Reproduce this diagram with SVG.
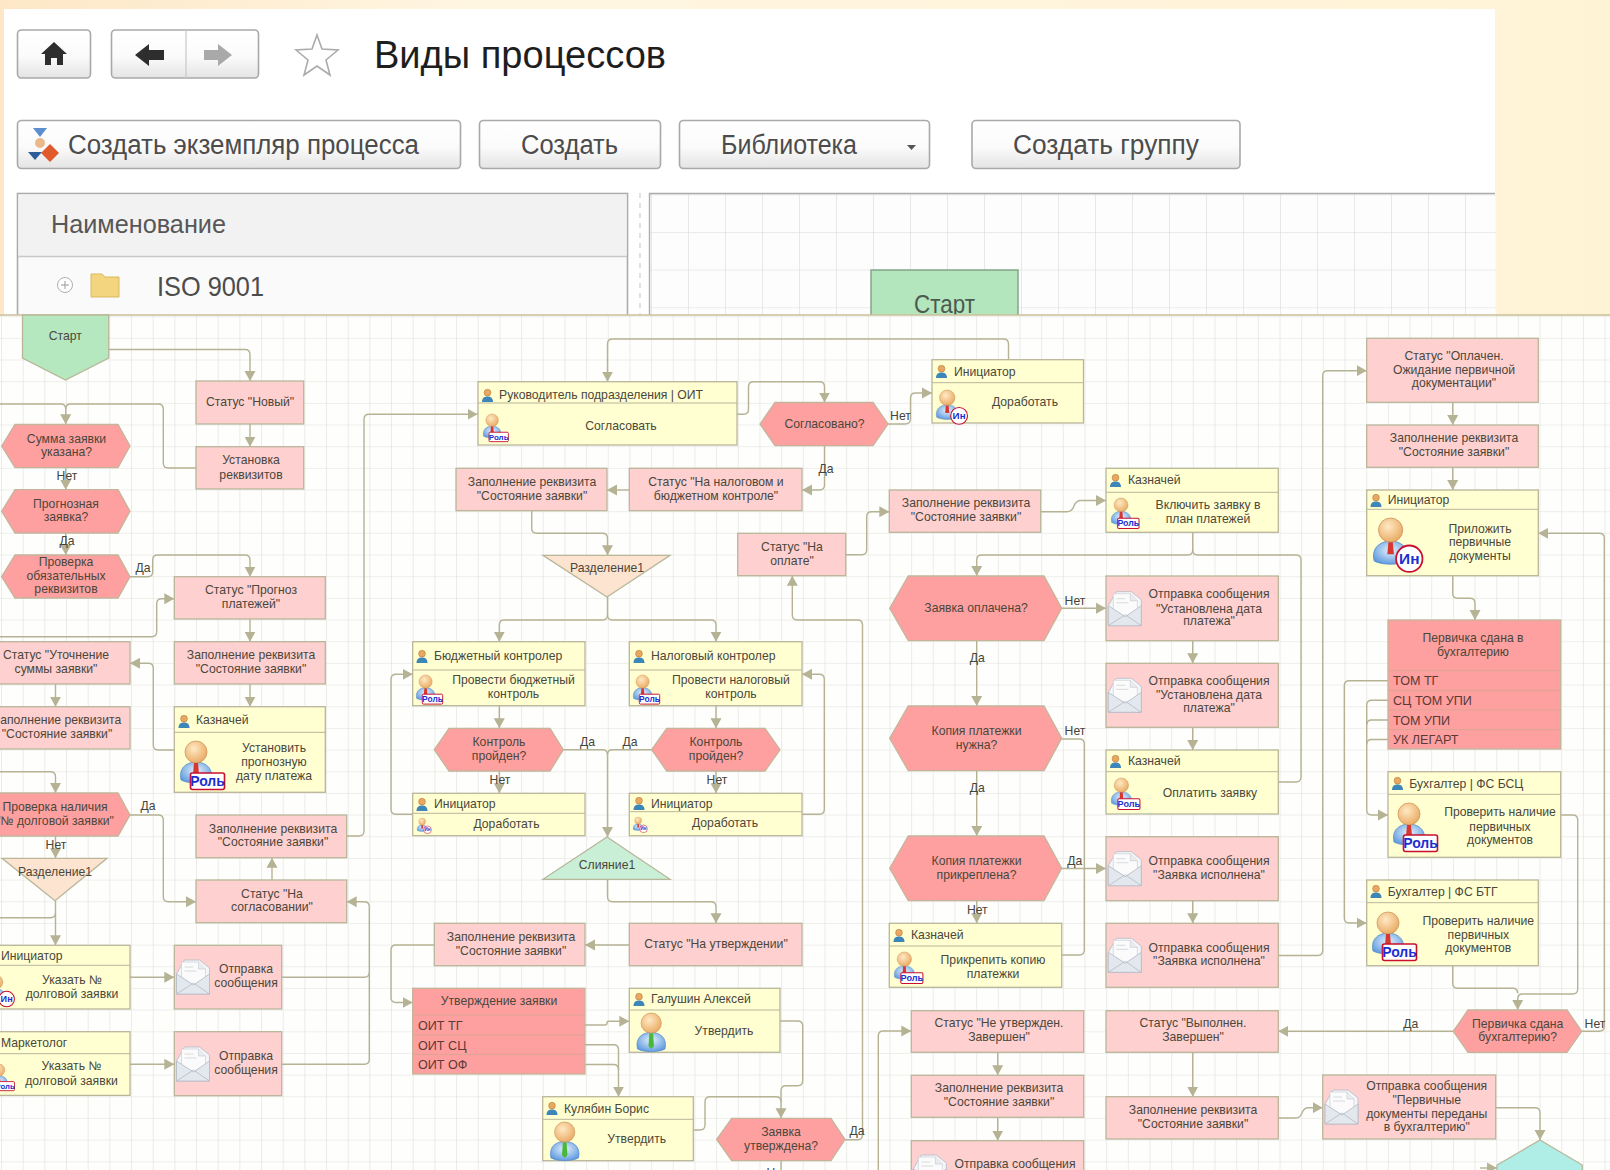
<svg xmlns="http://www.w3.org/2000/svg" xmlns:xlink="http://www.w3.org/1999/xlink" width="1610" height="1170" viewBox="0 0 1610 1170">
<style>
text{font-family:"Liberation Sans",Arial,sans-serif}
.t{font-size:12.2px;fill:#4a473b;text-anchor:middle;transform:translateY(-1px)}
.h{font-size:12.2px;fill:#4a473b;transform:translateY(-1px)}
.r{font-size:12.6px;fill:#5a3a34;transform:translateY(-.5px)}
.l{font-size:12.2px;fill:#45443a;text-anchor:middle;transform:translateY(-1px)}
.lp{fill:#ffd0d0;stroke:#b9b69a;stroke-width:1.3}
.dp{fill:#ffa0a0;stroke:#c4b49a;stroke-width:1.3}
.ye{fill:#ffffd2;stroke:#b9b69a;stroke-width:1.3}
.sep{stroke:#b9b69a;stroke-width:1;fill:none}
.rsep{stroke:#d9a593;stroke-width:1;fill:none}
.btn{fill:url(#bg);stroke:#a9a9a9;stroke-width:1.6}
.bt{font-size:27px;fill:#4c4c4c}
#connectors path{fill:none;stroke:#b6b294;stroke-width:1.4}
#connectors .a{marker-end:url(#arr)}
</style>
<defs>
<linearGradient id="page" x1="0" x2="1" y1="0" y2="0"><stop offset="0" stop-color="#fde7c6"/><stop offset=".3" stop-color="#fff6e2"/><stop offset="1" stop-color="#fff3d6"/></linearGradient>
<linearGradient id="bg" x1="0" x2="0" y1="0" y2="1"><stop offset="0" stop-color="#fff"/><stop offset=".55" stop-color="#fbfbfb"/><stop offset="1" stop-color="#e4e4e4"/></linearGradient>
<radialGradient id="head" cx=".4" cy=".35" r=".7"><stop offset="0" stop-color="#ffe9c4"/><stop offset="1" stop-color="#e9a860"/></radialGradient>
<radialGradient id="body" cx=".5" cy=".4" r=".7"><stop offset="0" stop-color="#e6f2fb"/><stop offset="1" stop-color="#4d8fdc"/></radialGradient>
<pattern id="grid" patternUnits="userSpaceOnUse" x="1" y="12.8" width="21.67" height="21.67"><rect width="21.67" height="21.67" fill="#fefefd"/><path d="M0,0H21.67M0,0V21.67" stroke="#dfdfd9" stroke-width="1.2" fill="none"/></pattern>
<pattern id="gridt" patternUnits="userSpaceOnUse" x="651" y="232" width="37" height="37.6"><rect width="37" height="37.6" fill="#fdfdfd"/><path d="M0,0H37M0,0V37.6" stroke="#dadada" stroke-width="1.2" fill="none"/></pattern>
<marker id="arr" markerUnits="userSpaceOnUse" markerWidth="11" markerHeight="12" refX="10" refY="6" orient="auto"><path d="M0,.5L10,6L0,11.5z" fill="#b6b294"/></marker>
<g id="uS"><circle cx="5.5" cy="3.7" r="3.4" fill="#e9a860" stroke="#a8703a" stroke-width=".5"/><path d="M0,13C0,8.5 3,7.5 5.5,7.5S11,8.5 11,13z" fill="#3d86b8"/></g>
<g id="man"><path d="M1,39C-2,26 8,21 16,21S34,26 31,39C24,43 8,43 1,39z" fill="url(#body)" stroke="#4f86c8" stroke-width=".7"/><circle cx="16" cy="11" r="11" fill="url(#head)" stroke="#c98f55" stroke-width=".7"/></g>
<g id="pR"><use xlink:href="#man" href="#man"/><path d="M14,22H18L19,33H13z" fill="#d8372f"/><rect x="10.5" y="32" width="34" height="16.5" rx="2" fill="#fff" stroke="#c8102e" stroke-width="1.6"/><text x="27.5" y="45" font-size="14" font-weight="bold" fill="#1b2fd0" text-anchor="middle">Роль</text></g>
<g id="pI"><use xlink:href="#man" href="#man"/><path d="M14,22H18L19,33H13z" fill="#d8372f"/><circle cx="33" cy="37" r="12" fill="#fff" stroke="#c8102e" stroke-width="1.6"/><text x="33" y="42" font-size="14" font-weight="bold" fill="#1b2fd0" text-anchor="middle">Ин</text></g>
<g id="pG"><use xlink:href="#man" href="#man"/><path d="M14,22H18L19,36L16,39L13,36z" fill="#49b83a"/></g>
<g id="env"><path d="M0,14L8,0H23L33,8V34H0z" fill="#f4f6f9" stroke="#b4bac4" stroke-width=".8"/><path d="M5,18V2H22L29,9V18L17,25z" fill="#fbfbfb" stroke="#c3c7cd" stroke-width=".6"/><path d="M22,2V9H29" fill="#e9ecef" stroke="#c3c7cd" stroke-width=".6"/><path d="M8,7H17M8,11H20" stroke="#d8dade" stroke-width="1"/><path d="M0,14L17,25L33,14V34H0z" fill="#e3e8ef" stroke="#b4bac4" stroke-width=".8"/><path d="M0,34L17,23L33,34" fill="none" stroke="#b4bac4" stroke-width=".8"/></g>
</defs>

<rect width="1610" height="315" fill="url(#page)"/>
<rect x="4" y="9" width="1491" height="306" fill="#fff"/>

<g id="toolbar">
<rect class="btn" x="17.500" y="30" width="73" height="48" rx="4"/>
<path d="M54,42L41,54H45V65H51V58H57V65H63V54H67z" fill="#2e2e2e"/>
<rect class="btn" x="111.500" y="30" width="147" height="48" rx="4"/>
<path d="M186,30V78" stroke="#c8c8c8" stroke-width="1.2"/>
<path d="M135,55L149,44V50H164V60H149V66z" fill="#2e2e2e"/>
<path d="M232,55L218,44V50H204V60H218V66z" fill="#a9a9a9"/>
<polygon points="317,35 322,49 338,50 326,60 330,75 317,66 304,75 308,60 296,50 312,49" fill="#fff" stroke="#ababab" stroke-width="1.6"/>
<text x="374" y="68" font-size="38" fill="#1e1e1e" textLength="292" lengthAdjust="spacingAndGlyphs">Виды процессов</text>
<rect class="btn" x="17.500" y="120.500" width="443" height="48" rx="4"/>
<path d="M33,128H47L40,137z" fill="#5b8fd0"/><circle cx="40" cy="143" r="5" fill="#e9b98a"/><path d="M28,152H42L35,160z" fill="#2c5f99"/><path d="M50,144L59,153L50,162L41,153z" fill="#e05a2b"/>
<text class="bt" x="68" y="154" textLength="351" lengthAdjust="spacingAndGlyphs">Создать экземпляр процесса</text>
<rect class="btn" x="479.500" y="120.500" width="181" height="48" rx="4"/>
<text class="bt" x="521" y="154" textLength="97" lengthAdjust="spacingAndGlyphs">Создать</text>
<rect class="btn" x="679.500" y="120.500" width="250" height="48" rx="4"/>
<text class="bt" x="721" y="154" textLength="136" lengthAdjust="spacingAndGlyphs">Библиотека</text>
<path d="M907,145H916L911.500,150z" fill="#555"/>
<rect class="btn" x="972" y="120.500" width="268" height="48" rx="4"/>
<text class="bt" x="1013" y="154" textLength="186" lengthAdjust="spacingAndGlyphs">Создать группу</text>
</g>

<g id="list">
<rect x="17.500" y="193.500" width="610" height="125" fill="#fafafa" stroke="#ababab" stroke-width="1.6"/>
<rect x="18.500" y="194.500" width="608" height="62" fill="#f2f2f2"/>
<path d="M18,256.500H627" stroke="#c8c8c8" stroke-width="1.4"/>
<text x="51" y="233" font-size="26" fill="#575757" textLength="175" lengthAdjust="spacingAndGlyphs">Наименование</text>
<circle cx="65" cy="285" r="7.500" fill="#fff" stroke="#b0b0b0"/><path d="M61,285H69M65,281V289" stroke="#9a9a9a"/>
<path d="M91,274H102L105,277H119V297H91z" fill="#f2d57e" stroke="#d9b961"/>
<text x="157" y="296" font-size="28" fill="#4c4c4c" textLength="107" lengthAdjust="spacingAndGlyphs">ISO 9001</text>
<path d="M640,193V315" stroke="#d4d4d4" stroke-width="1.4" stroke-dasharray="5 5"/>
</g>

<g id="top-canvas">
<rect x="649.500" y="193" width="846" height="122" fill="url(#gridt)"/>
<path d="M649.500,315V193.500H1495" stroke="#ababab" stroke-width="1.4" fill="none"/>
<rect x="871" y="270" width="147" height="50" fill="#b4e6bd" stroke="#7f9f86" stroke-width="1.4"/>
<text x="914" y="313" font-size="25" fill="#4c5a50" textLength="61" lengthAdjust="spacingAndGlyphs">Старт</text>
</g>

<rect x="0" y="315" width="1610" height="855" fill="url(#grid)"/>
<path d="M0,315H1610" stroke="#c9bf97" stroke-width="1.6"/>

<g id="connectors">
<path class="a" d="M108.700,349.500H245Q250,349.500 250,354.500V381"/>
<path class="a" d="M250,424V446.700"/>
<path class="a" d="M196,468H168.300Q163.300,468 163.300,463V409Q163.300,404 158.300,404H70.700Q65.700,404 65.700,409V424.300"/>
<path d="M0,404H60.700Q65.700,404 65.700,409"/>
<path class="a" d="M65.700,467.700V489.700"/>
<path class="a" d="M65.700,533V555"/>
<path class="a" d="M130,576.700H147.700Q152.700,576.700 152.700,571.700V560Q152.700,555 157.700,555H245Q250,555 250,560V576.700"/>
<path class="a" d="M0,636.700H151.700Q156.700,636.700 156.700,631.700V603.700Q156.700,598.700 161.700,598.700H174.300"/>
<path class="a" d="M250,619V641.700"/>
<path class="a" d="M250,684V706.700"/>
<path class="a" d="M174.300,750H158.300Q153.300,750 153.300,745V668.300Q153.300,663.300 148.300,663.300H130"/>
<path class="a" d="M55.500,684V706.700"/>
<path class="a" d="M0,771.700H50.500Q55.500,771.700 55.500,776.700V793"/>
<path class="a" d="M55.500,835.700V858.300"/>
<path class="a" d="M130,815H158.300Q163.300,815 163.300,820V896.700Q163.300,901.700 168.300,901.700H196"/>
<path class="a" d="M55.500,900.700V945.300"/>
<path d="M0,917.700H50.500Q55.500,917.700 55.500,912.700"/>
<path class="a" d="M130,977.300H174.300"/>
<path class="a" d="M130,1064.300H174.300"/>
<path class="a" d="M281.700,1064.300H364.300Q369.300,1064.300 369.300,1059.300V906.700Q369.300,901.700 364.300,901.700H346.700"/>
<path d="M281.700,977.300H364.300Q369.300,977.300 369.300,972.300"/>
<path class="a" d="M272,880V857.700"/>
<path class="a" d="M346.700,836H359Q364,836 364,831V419.300Q364,414.300 369,414.300H477.500"/>
<path class="a" d="M737,414.300H743.500Q748.500,414.300 748.500,409.300V386.700Q748.500,381.700 753.500,381.700H819.500Q824.500,381.700 824.500,386.700V402.500"/>
<path class="a" d="M888,424H905Q910.500,424 910.500,419V398Q910.500,393 915.500,393H932"/>
<path class="a" d="M1008.500,359.700V344Q1008.500,339 1003.500,339H612.500Q607.500,339 607.500,344V381.700"/>
<path class="a" d="M824.500,445.600V485Q824.500,490 819.500,490H802"/>
<path class="a" d="M629.300,490H607"/>
<path class="a" d="M531.700,510.700V528.300Q531.700,533.300 536.700,533.300H602.500Q607.500,533.300 607.500,538.300V555.300"/>
<path class="a" d="M607.500,597V615Q607.500,620 602.500,620H504.300Q499.300,620 499.300,625V641.700"/>
<path class="a" d="M607.500,615Q607.500,620 612.500,620H711Q716,620 716,625V641.700"/>
<path class="a" d="M499.300,705.700V728.300"/>
<path class="a" d="M716,705.700V728.300"/>
<path class="a" d="M499.300,771V793.300"/>
<path class="a" d="M716,771V793.300"/>
<path d="M563.300,749.700H602.500Q607.500,749.700 607.500,754.700"/>
<path class="a" d="M651.700,749.700H612.500Q607.500,749.700 607.500,754.700V837"/>
<path class="a" d="M412.700,814.300H396Q391,814.300 391,809.300V679.300Q391,674.300 396,674.300H412.700"/>
<path class="a" d="M802,814.300H819.300Q824.300,814.300 824.300,809.300V679.300Q824.300,674.300 819.300,674.300H802"/>
<path class="a" d="M607.500,879.300V896.700Q607.500,901.700 612.500,901.700H711Q716,901.700 716,906.700V923.300"/>
<path class="a" d="M629.300,945H585"/>
<path class="a" d="M434.300,945H396Q391,945 391,950V997.500Q391,1002.500 396,1002.500H412.700"/>
<path class="a" d="M585,1025H605Q607,1025 607,1023V1023Q607,1021.300 609,1021.300H629.300"/>
<path class="a" d="M585,1044.700H613.500Q618.500,1044.700 618.500,1049.700V1096.700"/>
<path d="M585,1064.500H613.500Q618.500,1064.500 618.500,1069.500"/>
<path class="a" d="M780,1021H797.700Q802.700,1021 802.700,1026V1080.700Q802.700,1085.700 797.700,1085.700H786Q781,1085.700 781,1090.700V1118.300"/>
<path d="M693.300,1130H700Q705,1130 705,1125V1101.700Q705,1096.700 710,1096.700H776Q781,1096.700 781,1101.700"/>
<path class="a" d="M845,1139.700H857.500Q862.500,1139.700 862.500,1134.700V625Q862.500,620 857.500,620H797.300Q792.300,620 792.300,615V575.700"/>
<path class="a" d="M845.700,554.700H861.700Q866.700,554.700 866.700,549.700V516.700Q866.700,511.700 871.700,511.700H889.300"/>
<path class="a" d="M1040.700,511.700H1067Q1072,511.700 1074,506Q1076,500.500 1081,500.500H1106"/>
<path class="a" d="M1192.700,532.300V550Q1192.700,555 1187.700,555H981.700Q976.700,555 976.700,560V576"/>
<path d="M1278.300,782H1296Q1301,782 1301,777V560Q1301,555 1296,555H1197.700Q1192.700,555 1192.700,550"/>
<path class="a" d="M1061.700,608.300H1106"/>
<path class="a" d="M976.700,640.700V706"/>
<path class="a" d="M976.700,770.700V836"/>
<path d="M1061.700,739H1079.300Q1084.300,739 1084.300,744V950Q1084.300,955 1079.300,955H1061.700"/>
<path class="a" d="M1061.700,868.500H1106"/>
<path class="a" d="M1192.700,640.700V663.300"/>
<path class="a" d="M1192.700,727.300V750"/>
<path class="a" d="M1192.700,900.700V923.300"/>
<path class="a" d="M976.700,900.700V923.300"/>
<path class="a" d="M1278.300,955.500H1317.700Q1322.700,955.500 1322.700,950.500V375.700Q1322.700,370.700 1327.700,370.700H1366.700"/>
<path class="a" d="M1452.700,402.300V425"/>
<path class="a" d="M1452.700,467.300V490"/>
<path class="a" d="M1452.700,575.700V593.300Q1452.700,598.300 1457.700,598.300H1470Q1475,598.300 1475,603.300V620"/>
<path class="a" d="M1388,680.700H1349.300Q1344.300,680.700 1344.300,685.700V918Q1344.300,923 1349.300,923H1366.700"/>
<path class="a" d="M1388,700.300H1371.700Q1366.700,700.300 1366.700,705.300V810Q1366.700,815 1371.700,815H1388"/>
<path d="M1388,720H1371.700Q1366.700,720 1366.700,725"/>
<path d="M1388,739.500H1371.700Q1366.700,739.500 1366.700,744.500"/>
<path class="a" d="M1560.700,815H1572.700Q1577.700,815 1577.700,820V989Q1577.700,994 1572.700,994H1522.700Q1517.700,994 1517.700,999V1010"/>
<path d="M1452.700,965.700V983.300Q1452.700,988.300 1457.700,988.300H1512.700Q1517.700,988.300 1517.700,993.300"/>
<path class="a" d="M1581.700,1031.300H1599.300Q1604.300,1031.300 1604.300,1026.300V538.300Q1604.300,533.300 1599.300,533.300H1538.300"/>
<path class="a" d="M1453.300,1031.300H1278.300"/>
<path class="a" d="M1192.700,1052.300V1096.700"/>
<path class="a" d="M1278.300,1118H1296Q1300,1118 1302,1113Q1304,1107.700 1308,1107.700H1322.700"/>
<path class="a" d="M1495.700,1107.700H1535Q1540,1107.700 1540,1112.700V1140"/>
<path class="a" d="M878.300,1170V1036Q878.300,1031 883.300,1031H911.300"/>
<path class="a" d="M997.700,1052.300V1075.300"/>
<path class="a" d="M997.700,1117.300V1140.700"/>
<path d="M781,1160.700V1170"/>
<path class="a" d="M1480,1168H1497"/>
</g>

<g id="n-start"><polygon points="22.500,315 108.700,315 108.700,358 65.500,380 22.500,358" fill="#b6e8c0" stroke="#b9b69a" stroke-width="1.300"/><text class="t" x="65.300" y="341">Старт</text></g>
<g id="n-new"><rect class="lp" x="196" y="381" width="107.700" height="43"/><text class="t" x="250" y="407">Статус "Новый"</text></g>
<g id="n-set"><rect class="lp" x="196" y="446.700" width="107.700" height="42.300"/><text class="t" x="251" y="465">Установка</text><text class="t" x="251" y="479.500">реквизитов</text></g>
<g id="n-sum"><polygon class="dp" points="1.700,446 15,424.500 118,424.500 130,446 118,467.700 15,467.700"/><text class="t" x="66.500" y="443.500">Сумма заявки</text><text class="t" x="66.500" y="457.200">указана?</text></g>
<g id="n-prog"><polygon class="dp" points="1.700,511.300 15,489.700 118,489.700 130,511.300 118,533 15,533"/><text class="t" x="66" y="508.500">Прогнозная</text><text class="t" x="66" y="522.200">заявка?</text></g>
<g id="n-chk"><polygon class="dp" points="1.700,576.700 15,555 118,555 130,576.700 118,598 15,598"/><text class="t" x="66" y="566.800">Проверка</text><text class="t" x="66" y="580.800">обязательных</text><text class="t" x="66" y="593.800">реквизитов</text></g>
<g id="n-stprog"><rect class="lp" x="174.300" y="576.700" width="151" height="42.300"/><text class="t" x="251" y="594.800">Статус "Прогноз</text><text class="t" x="251" y="608.500">платежей"</text></g>
<g id="n-fill1"><rect class="lp" x="174.300" y="641.700" width="151" height="42.300"/><text class="t" x="251" y="660.200">Заполнение реквизита</text><text class="t" x="251" y="673.800">"Состояние заявки"</text></g>
<g id="n-kaz1"><rect class="ye" x="174.300" y="706.700" width="151" height="85.600"/><path class="sep" d="M174.300,732.300H325.300"/><use xlink:href="#uS" href="#uS" x="178.500" y="715"/><text class="h" x="196" y="724.500">Казначей</text><use xlink:href="#pR" href="#pR" x="180" y="741"/><text class="t" x="274" y="753.200">Установить</text><text class="t" x="274" y="767.200">прогнозную</text><text class="t" x="274" y="780.500">дату платежа</text></g>
<g id="n-utoch"><rect class="lp" x="-20" y="641.700" width="150" height="42.300"/><text class="t" x="56" y="660.200">Статус "Уточнение</text><text class="t" x="56" y="673.800">суммы заявки"</text></g>
<g id="n-fill2"><rect class="lp" x="-20" y="706.700" width="150" height="42.300"/><text class="t" x="57" y="725.200">Заполнение реквизита</text><text class="t" x="57" y="738.800">"Состояние заявки"</text></g>
<g id="n-dolg"><polygon class="dp" points="-20,815 -8,793 118,793 130,815 118,836 -8,836"/><text class="t" x="55" y="811.800">Проверка наличия</text><text class="t" x="55" y="825.500">"№ долговой заявки"</text></g>
<g id="n-split1"><polygon points="2,858.300 107,858.300 55,900.700" fill="#fde4d0" stroke="#b9b69a" stroke-width="1.300"/><text class="t" x="55" y="876.500">Разделение1</text></g>
<g id="n-fill3"><rect class="lp" x="196" y="815" width="150.700" height="42.700"/><text class="t" x="273" y="833.500">Заполнение реквизита</text><text class="t" x="273" y="847.200">"Состояние заявки"</text></g>
<g id="n-stsogl"><rect class="lp" x="196" y="880" width="150.700" height="42.700"/><text class="t" x="272" y="898.500">Статус "На</text><text class="t" x="272" y="912.200">согласовании"</text></g>
<g id="n-init1"><rect class="ye" x="-40" y="945.300" width="170" height="63.700"/><path class="sep" d="M-40,965.300H130"/><text class="h" x="1" y="961.200">Инициатор</text><use xlink:href="#pI" href="#pI" transform="translate(-14.800 975) scale(.65)"/><text class="t" x="72" y="984.800">Указать №</text><text class="t" x="72" y="999.200">долговой заявки</text></g>
<g id="n-mail1"><rect class="lp" x="174.300" y="945.300" width="107.400" height="63.700"/><use xlink:href="#env" href="#env" x="176.500" y="960"/><text class="t" x="246" y="973.800">Отправка</text><text class="t" x="246" y="988.200">сообщения</text></g>
<g id="n-mark"><rect class="ye" x="-40" y="1031.700" width="170" height="63.700"/><path class="sep" d="M-40,1053.700H130"/><text class="h" x="1" y="1047.800">Маркетолог</text><use xlink:href="#pR" href="#pR" transform="translate(-10 1064) scale(.55)"/><text class="t" x="71.500" y="1071.200">Указать №</text><text class="t" x="71.500" y="1085.800">долговой заявки</text></g>
<g id="n-mail2"><rect class="lp" x="174.300" y="1031.700" width="107.400" height="64"/><use xlink:href="#env" href="#env" x="176.500" y="1047"/><text class="t" x="246" y="1060.500">Отправка</text><text class="t" x="246" y="1074.800">сообщения</text></g>

<g id="n-ruk"><rect class="ye" x="478" y="381.700" width="259" height="63.300"/><path class="sep" d="M478,403H737"/><use xlink:href="#uS" href="#uS" x="482" y="389"/><text class="h" x="499" y="400">Руководитель подразделения | ОИТ</text><use xlink:href="#pR" href="#pR" transform="translate(483 414) scale(.57)"/><text class="t" x="621" y="430.500">Согласовать</text></g>
<g id="n-sogl"><polygon class="dp" points="760,424 775,402.500 873,402.500 888,424 873,445.600 775,445.600"/><text class="t" x="824.500" y="428.500">Согласовано?</text></g>
<g id="n-dor"><rect class="ye" x="932" y="359.700" width="151.500" height="63.300"/><path class="sep" d="M932,382.700H1083.500"/><use xlink:href="#uS" href="#uS" x="936" y="365"/><text class="h" x="954" y="377">Инициатор</text><use xlink:href="#pI" href="#pI" transform="translate(936 390) scale(.7)"/><text class="t" x="1025" y="407">Доработать</text></g>
<g id="n-fill4"><rect class="lp" x="456" y="468.300" width="151" height="42.400"/><text class="t" x="532" y="486.500">Заполнение реквизита</text><text class="t" x="532" y="500.500">"Состояние заявки"</text></g>
<g id="n-stnal"><rect class="lp" x="629.300" y="468.300" width="172.700" height="42.400"/><text class="t" x="716" y="486.500">Статус "На налоговом и</text><text class="t" x="716" y="500.500">бюджетном контроле"</text></g>
<g id="n-split2"><polygon points="543,555.300 670,555.300 607,597" fill="#fde4d0" stroke="#b9b69a" stroke-width="1.300"/><text class="t" x="607" y="572.800">Разделение1</text></g>
<g id="n-stopl"><rect class="lp" x="737.700" y="533.300" width="108" height="42.400"/><text class="t" x="792" y="551.500">Статус "На</text><text class="t" x="792" y="565.500">оплате"</text></g>
<g id="n-bud"><rect class="ye" x="412.700" y="641.700" width="172.300" height="64"/><path class="sep" d="M412.700,670H585"/><use xlink:href="#uS" href="#uS" x="416.500" y="650"/><text class="h" x="434" y="661.200">Бюджетный контролер</text><use xlink:href="#pR" href="#pR" transform="translate(416 675) scale(.6)"/><text class="t" x="513.500" y="684.800">Провести бюджетный</text><text class="t" x="513.500" y="699.200">контроль</text></g>
<g id="n-nal"><rect class="ye" x="629.300" y="641.700" width="172.700" height="64"/><path class="sep" d="M629.300,670H802"/><use xlink:href="#uS" href="#uS" x="633.500" y="650"/><text class="h" x="651" y="661.200">Налоговый контролер</text><use xlink:href="#pR" href="#pR" transform="translate(633 675) scale(.6)"/><text class="t" x="731" y="684.800">Провести налоговый</text><text class="t" x="731" y="699.200">контроль</text></g>
<g id="n-ctl1"><polygon class="dp" points="434.300,749.700 449,728.300 550,728.300 563.300,749.700 550,771 449,771"/><text class="t" x="499" y="746.500">Контроль</text><text class="t" x="499" y="760.500">пройден?</text></g>
<g id="n-ctl2"><polygon class="dp" points="651.700,749.700 666.700,728.300 765,728.300 780,749.700 765,771 666.700,771"/><text class="t" x="716" y="746.500">Контроль</text><text class="t" x="716" y="760.500">пройден?</text></g>
<g id="n-init2"><rect class="ye" x="412.700" y="793.300" width="172.300" height="42.400"/><path class="sep" d="M412.700,813.300H585"/><use xlink:href="#uS" href="#uS" x="416.500" y="798"/><text class="h" x="434" y="809.200">Инициатор</text><use xlink:href="#pI" href="#pI" transform="translate(417 818) scale(.32)"/><text class="t" x="506.500" y="828.800">Доработать</text></g>
<g id="n-init3"><rect class="ye" x="629.300" y="793.300" width="172.700" height="42.400"/><path class="sep" d="M629.300,811.700H802"/><use xlink:href="#uS" href="#uS" x="633.500" y="797"/><text class="h" x="651" y="808.500">Инициатор</text><use xlink:href="#pI" href="#pI" transform="translate(633 817) scale(.32)"/><text class="t" x="725" y="827.800">Доработать</text></g>
<g id="n-merge"><polygon points="607,837 670,879.300 543,879.300" fill="#c9efd6" stroke="#b9b69a" stroke-width="1.300"/><text class="t" x="607" y="869.500">Слияние1</text></g>
<g id="n-fill5"><rect class="lp" x="434.300" y="923.300" width="150.700" height="42.400"/><text class="t" x="511" y="941.500">Заполнение реквизита</text><text class="t" x="511" y="955.500">"Состояние заявки"</text></g>
<g id="n-stut"><rect class="lp" x="629.300" y="923.300" width="172.700" height="42.400"/><text class="t" x="716" y="948.800">Статус "На утверждении"</text></g>
<g id="n-appr"><rect class="dp" x="412.700" y="988.300" width="172.300" height="85.700"/><path class="rsep" d="M412.700,1015H585M412.700,1035H585M412.700,1054.300H585"/><text class="t" x="499" y="1005.500">Утверждение заявки</text><text class="r" x="418" y="1030.300">ОИТ ТГ</text><text class="r" x="418" y="1050">ОИТ СЦ</text><text class="r" x="418" y="1069.300">ОИТ ОФ</text></g>
<g id="n-gal"><rect class="ye" x="629.300" y="988.300" width="150.700" height="64"/><path class="sep" d="M629.300,1010H780"/><use xlink:href="#uS" href="#uS" x="633.500" y="993"/><text class="h" x="651" y="1004.200">Галушин Алексей</text><use xlink:href="#pG" href="#pG" transform="translate(636.500 1013) scale(.92)"/><text class="t" x="724" y="1035.800">Утвердить</text></g>
<g id="n-kul"><rect class="ye" x="542.700" y="1096.700" width="150.600" height="64"/><path class="sep" d="M542.700,1119.300H693.300"/><use xlink:href="#uS" href="#uS" x="546.500" y="1102"/><text class="h" x="564" y="1113.800">Кулябин Борис</text><use xlink:href="#pG" href="#pG" transform="translate(550 1122) scale(.92)"/><text class="t" x="636.700" y="1144.200">Утвердить</text></g>
<g id="n-utv"><polygon class="dp" points="716.700,1139.500 731.700,1118.300 831,1118.300 845,1139.500 831,1160.700 731.700,1160.700"/><text class="t" x="781" y="1136.500">Заявка</text><text class="t" x="781" y="1150.500">утверждена?</text></g>

<g id="n-fill6"><rect class="lp" x="889.300" y="490" width="151.400" height="42.300"/><text class="t" x="966" y="507.800">Заполнение реквизита</text><text class="t" x="966" y="522.200">"Состояние заявки"</text></g>
<g id="n-kaz2"><rect class="ye" x="1106" y="468.300" width="172.300" height="64"/><path class="sep" d="M1106,492.300H1278.300"/><use xlink:href="#uS" href="#uS" x="1110" y="474"/><text class="h" x="1128" y="485.200">Казначей</text><use xlink:href="#pR" href="#pR" transform="translate(1111 498) scale(.63)"/><text class="t" x="1208" y="509.500">Включить заявку в</text><text class="t" x="1208" y="523.500">план платежей</text></g>
<g id="n-paid"><polygon class="dp" points="889.700,608.300 908.300,576 1044,576 1061.700,608.300 1044,640.700 908.300,640.700"/><text class="t" x="976" y="612.800">Заявка оплачена?</text></g>
<g id="n-mail3"><rect class="lp" x="1106" y="576" width="172.300" height="64.700"/><use xlink:href="#env" href="#env" x="1108.300" y="591.700"/><text class="t" x="1209" y="599.200">Отправка сообщения</text><text class="t" x="1209" y="613.500">"Установлена дата</text><text class="t" x="1209" y="626.200">платежа"</text></g>
<g id="n-mail4"><rect class="lp" x="1106" y="663.300" width="172.300" height="64"/><use xlink:href="#env" href="#env" x="1108.300" y="678.300"/><text class="t" x="1209" y="685.800">Отправка сообщения</text><text class="t" x="1209" y="700.200">"Установлена дата</text><text class="t" x="1209" y="712.800">платежа"</text></g>
<g id="n-kaz3"><rect class="ye" x="1106" y="750" width="172.300" height="64"/><path class="sep" d="M1106,771.700H1278.300"/><use xlink:href="#uS" href="#uS" x="1110" y="755"/><text class="h" x="1128" y="765.500">Казначей</text><use xlink:href="#pR" href="#pR" transform="translate(1111 778) scale(.65)"/><text class="t" x="1210" y="797.800">Оплатить заявку</text></g>
<g id="n-copy1"><polygon class="dp" points="889.700,738.300 908.300,706 1044,706 1061.700,738.300 1044,770.700 908.300,770.700"/><text class="t" x="976.500" y="735.500">Копия платежки</text><text class="t" x="976.500" y="749.500">нужна?</text></g>
<g id="n-copy2"><polygon class="dp" points="889.700,868.300 908.300,836 1044,836 1061.700,868.300 1044,900.700 908.300,900.700"/><text class="t" x="976.500" y="865.500">Копия платежки</text><text class="t" x="976.500" y="879.500">прикреплена?</text></g>
<g id="n-mail5"><rect class="lp" x="1106" y="836.700" width="172.300" height="64"/><use xlink:href="#env" href="#env" x="1108.300" y="851.700"/><text class="t" x="1209" y="865.500">Отправка сообщения</text><text class="t" x="1209" y="879.500">"Заявка исполнена"</text></g>
<g id="n-mail6"><rect class="lp" x="1106" y="923.300" width="172.300" height="64"/><use xlink:href="#env" href="#env" x="1108.300" y="938.300"/><text class="t" x="1209" y="952.500">Отправка сообщения</text><text class="t" x="1209" y="966.200">"Заявка исполнена"</text></g>
<g id="n-kaz4"><rect class="ye" x="889.300" y="923.300" width="172.400" height="64"/><path class="sep" d="M889.300,946H1061.700"/><use xlink:href="#uS" href="#uS" x="893.500" y="929"/><text class="h" x="911" y="940.200">Казначей</text><use xlink:href="#pR" href="#pR" transform="translate(894 952) scale(.65)"/><text class="t" x="993" y="964.500">Прикрепить копию</text><text class="t" x="993" y="978.500">платежки</text></g>
<g id="n-notutv"><rect class="lp" x="911.300" y="1010.700" width="172.400" height="41.600"/><text class="t" x="999" y="1028.200">Статус "Не утвержден.</text><text class="t" x="999" y="1042.200">Завершен"</text></g>
<g id="n-fill7"><rect class="lp" x="911.300" y="1075.300" width="172.400" height="42"/><text class="t" x="999" y="1093.200">Заполнение реквизита</text><text class="t" x="999" y="1107.200">"Состояние заявки"</text></g>
<g id="n-mail7"><rect class="lp" x="911.300" y="1140.700" width="172.400" height="50"/><use xlink:href="#env" href="#env" x="913.300" y="1155"/><text class="t" x="1015" y="1168.800">Отправка сообщения</text></g>
<g id="n-done"><rect class="lp" x="1106" y="1010.700" width="172.300" height="41.600"/><text class="t" x="1193" y="1028.200">Статус "Выполнен.</text><text class="t" x="1193" y="1042.200">Завершен"</text></g>
<g id="n-fill8"><rect class="lp" x="1106" y="1096.700" width="172.300" height="42.300"/><text class="t" x="1193" y="1114.800">Заполнение реквизита</text><text class="t" x="1193" y="1128.800">"Состояние заявки"</text></g>

<g id="n-oplach"><rect class="lp" x="1366.700" y="338.300" width="171.600" height="64"/><text class="t" x="1454" y="360.500">Статус "Оплачен.</text><text class="t" x="1454" y="374.500">Ожидание первичной</text><text class="t" x="1454" y="387.800">документации"</text></g>
<g id="n-fill9"><rect class="lp" x="1366.700" y="425" width="171.600" height="42.300"/><text class="t" x="1454" y="443.200">Заполнение реквизита</text><text class="t" x="1454" y="457.200">"Состояние заявки"</text></g>
<g id="n-init4"><rect class="ye" x="1366.700" y="490" width="171.600" height="85.700"/><path class="sep" d="M1366.700,509.300H1538.300"/><use xlink:href="#uS" href="#uS" x="1370.500" y="494"/><text class="h" x="1387.700" y="504.800">Инициатор</text><use xlink:href="#pI" href="#pI" transform="translate(1373 518) scale(1.1)"/><text class="t" x="1480" y="533.500">Приложить</text><text class="t" x="1480" y="547.200">первичные</text><text class="t" x="1480" y="560.500">документы</text></g>
<g id="n-perv"><rect class="dp" x="1388" y="620" width="172.700" height="129"/><path class="rsep" d="M1388,670.700H1560.700M1388,690.300H1560.700M1388,710H1560.700M1388,729.700H1560.700"/><text class="t" x="1473" y="642.800">Первичка сдана в</text><text class="t" x="1473" y="656.500">бухгалтерию</text><text class="r" x="1393" y="685.700">ТОМ ТГ</text><text class="r" x="1393" y="705.300">СЦ ТОМ УПИ</text><text class="r" x="1393" y="725">ТОМ УПИ</text><text class="r" x="1393" y="744.300">УК ЛЕГАРТ</text></g>
<g id="n-bsc"><rect class="ye" x="1388" y="771.700" width="172.700" height="85.600"/><path class="sep" d="M1388,794.300H1560.700"/><use xlink:href="#uS" href="#uS" x="1392" y="777"/><text class="h" x="1409.300" y="788.500">Бухгалтер | ФС БСЦ</text><use xlink:href="#pR" href="#pR" x="1393" y="803"/><text class="t" x="1500" y="817.200">Проверить наличие</text><text class="t" x="1500" y="831.500">первичных</text><text class="t" x="1500" y="844.500">документов</text></g>
<g id="n-btg"><rect class="ye" x="1366.700" y="880" width="171.600" height="85.700"/><path class="sep" d="M1366.700,902.700H1538.300"/><use xlink:href="#uS" href="#uS" x="1370.500" y="885"/><text class="h" x="1387.700" y="896.800">Бухгалтер | ФС БТГ</text><use xlink:href="#pR" href="#pR" x="1372" y="912"/><text class="t" x="1478.300" y="925.500">Проверить наличие</text><text class="t" x="1478.300" y="939.800">первичных</text><text class="t" x="1478.300" y="952.800">документов</text></g>
<g id="n-pervq"><polygon class="dp" points="1453.300,1031.300 1468,1010 1567,1010 1581.700,1031.300 1567,1052.300 1468,1052.300"/><text class="t" x="1517.700" y="1028.500">Первичка сдана</text><text class="t" x="1517.700" y="1042.200">бухгалтерию?</text></g>
<g id="n-mail8"><rect class="lp" x="1322.700" y="1075" width="173" height="64"/><use xlink:href="#env" href="#env" x="1325" y="1090"/><text class="t" x="1426.700" y="1091.200">Отправка сообщения</text><text class="t" x="1426.700" y="1105.200">"Первичные</text><text class="t" x="1426.700" y="1118.500">документы переданы</text><text class="t" x="1426.700" y="1131.800">в бухгалтерию"</text></g>
<g id="n-teal"><polygon points="1497,1165 1540,1140 1582.300,1165 1582.300,1180 1497,1180" fill="#aeeee6" stroke="#b9b69a" stroke-width="1.300"/></g>

<g id="labels">
<text class="l" x="67" y="481">Нет</text>
<text class="l" x="67" y="546">Да</text>
<text class="l" x="143" y="573">Да</text>
<text class="l" x="148" y="811">Да</text>
<text class="l" x="56" y="850">Нет</text>
<text class="l" x="900.500" y="421">Нет</text>
<text class="l" x="826" y="473.500">Да</text>
<text class="l" x="587.500" y="746.500">Да</text>
<text class="l" x="630" y="746.500">Да</text>
<text class="l" x="500" y="784.500">Нет</text>
<text class="l" x="717" y="784.500">Нет</text>
<text class="l" x="857" y="1136">Да</text>
<text class="l" x="777" y="1178">Нет</text>
<text class="l" x="1075" y="605.500">Нет</text>
<text class="l" x="977.300" y="662.800">Да</text>
<text class="l" x="1075" y="735.500">Нет</text>
<text class="l" x="977.300" y="792.800">Да</text>
<text class="l" x="1074.700" y="865.500">Да</text>
<text class="l" x="977.300" y="914.500">Нет</text>
<text class="l" x="1410.700" y="1028.500">Да</text>
<text class="l" x="1595" y="1028.500">Нет</text>
</g>
</svg>
